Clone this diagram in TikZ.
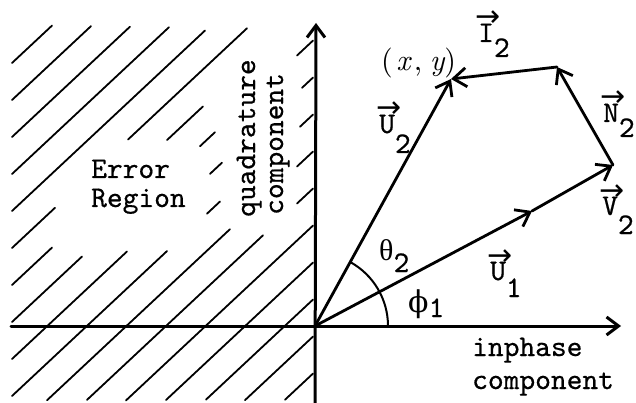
\RequirePackage{fix-cm}
\documentclass[tikz,border=0pt]{standalone}
\usepackage{fontspec}
\usetikzlibrary{arrows.meta}
\newfontfamily\tw{lmmono10-regular.otf}[FakeBold=0.5]
\newfontfamily\rmr{lmroman10-regular.otf}
\newfontfamily\rmi{lmroman10-italic.otf}
\newfontfamily\dvs{DejaVu Sans}
\newfontfamily\dvserif{DejaVu Serif}
\newfontfamily\grk{Liberation Serif}
\newcommand\vl[3]{\rlap{\kern-0.08em\raisebox{15pt}{\dvs →}}#1\raisebox{#3}{#2}}
\newcommand\hseg[3]{\draw[hatch] (#2,{#1-0.935*(#2-12)}) -- (#3,{#1-0.935*(#3-12)});}
\begin{document}
\begin{tikzpicture}[x=1pt,y=-1pt,line cap=round,line join=round,
  hatch/.style={line width=1.8pt},
  axis/.style={line width=3pt,-{Straight Barb[length=12pt,width=18pt]}},
  vec/.style={line width=2.8pt,-{Straight Barb[length=13pt,width=19pt]}},
  lab/.style={inner sep=0pt,font=\tw\fontsize{30}{33}\selectfont,anchor=base west}]
\useasboundingbox (0,0) rectangle (636,403);
% hatching of the error region
\hseg{63}{12}{52}
\hseg{100}{12}{91}
\hseg{137}{12}{130}
\hseg{174}{12}{169}
\hseg{211}{12}{205}
\hseg{248}{12}{55} \hseg{248}{128}{247}
\hseg{285}{12}{52} \hseg{285}{167}{203}
\hseg{322}{12}{82} \hseg{322}{200}{215} \hseg{322}{297}{313}
\hseg{359}{12}{127} \hseg{359}{210}{222} \hseg{359}{302}{313}
\hseg{396}{12}{167} \hseg{396}{207}{220} \hseg{396}{300}{313}
\hseg{433}{47}{230} \hseg{433}{297}{313}
\hseg{470}{87}{263} \hseg{470}{297}{313}
\hseg{507}{126}{313}
\hseg{544}{166}{313}
\hseg{581}{206}{313}
\hseg{618}{245}{313}
\hseg{655}{285}{313}
% axes
\coordinate (xl) at (11,326);
\coordinate (xr) at (621,326);
\coordinate (yb) at (315,403);
\coordinate (yt) at (316,23);
\draw[axis] (xl) -- (xr);
\draw[axis] (yb) -- (yt);
% vectors
\coordinate (O) at (315,326);
\coordinate (M) at (532,211);
\coordinate (R) at (613,165);
\coordinate (T) at (557,67);
\coordinate (P) at (451,79);
\draw[vec] (O) -- (M);
\draw[vec] (M) -- (R);
\draw[vec] (R) -- (T);
\draw[vec] (T) -- (P);
\draw[vec] (O) -- (P);
% angle arc
\draw[line width=2pt] (O) ++(73,0) arc[start angle=0,end angle=-61,radius=73];
% labels
\node[lab] (er) at (91,178) {Error};
\node[lab] (rg) at (91,207) {Region};
\node[lab,rotate=90] (qd) at (255,217) {quadrature};
\node[lab,rotate=90] (qc) at (283,215) {component};
\node[lab] (ip) at (472,356) {inphase};
\node[lab] (ic) at (472,389) {component};
\node[lab] (xy) at (381,71) {{\rmr(\kern0.12em}{\rmi x}{\rmr\kern0.12em,\kern0.25em}{\rmi y}{\rmr)}};
\node[lab] (lu2) at (379,133) {\vl{U}{2}{-20pt}};
\node[lab] (li2) at (478,42) {\vl{I}{2}{-15pt}};
\node[lab] (ln2) at (603,122) {\vl{N}{2}{-15pt}};
\node[lab] (lv2) at (602,215) {\vl{V}{2}{-19pt}};
\node[lab] (lu1) at (490,280) {\vl{U}{1}{-17pt}};
\node[lab] (lth) at (379,260) {{\grk θ}\raisebox{-12pt}{2}};
\node[lab] (lph) at (408,312) {{\dvserif ϕ}\raisebox{-5pt}{1}};
\end{tikzpicture}
\end{document}
